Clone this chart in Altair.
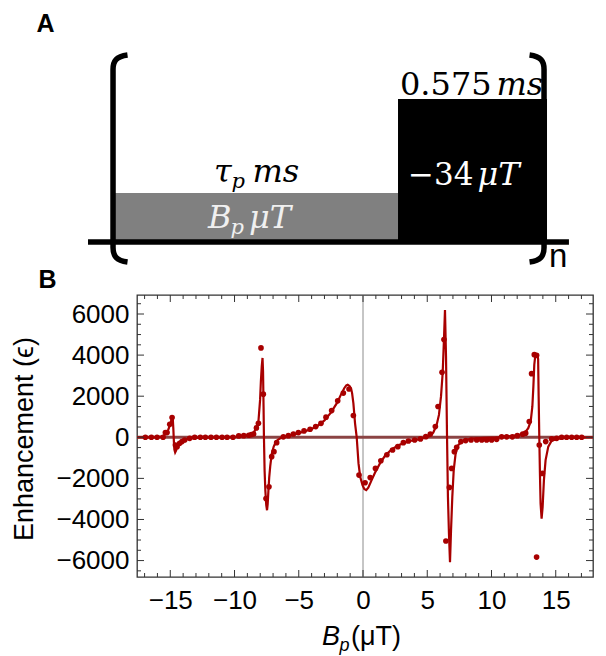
import altair as alt
import pandas as pd

# ---------------- Panel B: measured enhancement ----------------
bp_meas = [-16.94, -16.47, -16.03, -15.56, -15.38, -15.25, -15.04, -14.86, -14.6, -14.47,
           -14.27, -14.09, -13.88, -13.49, -13.1, -12.66, -12.27, -11.83, -11.41, -10.97,
           -10.58, -10.12, -9.67, -9.28, -8.89, -8.69, -8.51, -8.3, -8.14, -7.94,
           -7.76, -7.55, -7.32, -7.11, -6.93, -6.72, -6.2, -5.81, -5.42, -5.03,
           -4.59, -4.12, -3.68, -3.27, -2.88, -2.44, -1.97, -1.53, -1.09, -0.75,
           -0.31, 0.16, 0.56, 0.97, 1.39, 1.86, 2.3, 2.71, 3.14, 3.53,
           4.02, 4.47, 4.89, 5.24, 5.63, 5.84, 6.15, 6.3, 6.45, 6.72,
           6.9, 7.11, 7.29, 7.62, 7.99, 8.41, 8.85, 9.24, 9.62, 10.01,
           10.4, 10.79, 11.18, 11.62, 12.01, 12.43, 12.66, 12.94, 13.12, 13.33,
           13.51, 13.51, 13.72, 13.96, 14.22, 14.68, 15.07, 15.46, 15.85, 16.24,
           16.63, 17.02]
eps_meas = [0, 0, 0, 0, 230, 230, 635, 960, -375, -455,
            -295, -210, -130, -50, 0, 0, 0, 0, 0, 0,
            0, 0, 65, 80, 100, 130, 160, 455, 684, 4350,
            2100, -2980, -2410, -945, -700, -260, 20, 80, 160, 230,
            310, 390, 520, 680, 980, 1300, 1775, 2150, 2350, 1060,
            -1840, -2215, -1960, -1515, -1140, -850, -620, -455, -260, -180,
            -130, -80, 30, 160, 520, 1500, 3160, 4760, -5050, -2440,
            -1515, -700, -490, -210, -160, -130, -130, -130, -130, -130,
            -100, 20, 20, 20, 80, 150, 200, 765, 3095, 4020,
            3990, -5830, -375, -1760, -210, -80, -50, 0, 0, 0,
            0, 0]

# ---------------- Panel B: fitted curve ----------------
bp_fit = [-17.59, -16.5, -16.0, -15.7, -15.5, -15.3, -15.15, -15.0, -14.9, -14.84,
          -14.8, -14.76, -14.72, -14.68, -14.62, -14.55, -14.45, -14.3, -14.1, -13.9,
          -13.6, -13.2, -12.5, -11.5, -10.5, -9.8, -9.3, -8.9, -8.6, -8.4,
          -8.25, -8.14, -8.01, -7.95, -7.88, -7.82, -7.78, -7.74, -7.71, -7.66,
          -7.6, -7.53, -7.47, -7.42, -7.36, -7.3, -7.22, -7.1, -6.95, -6.8,
          -6.63, -6.4, -6.2, -6.0, -5.5, -5.0, -4.5, -4.0, -3.5, -3.0,
          -2.5, -2.0, -1.7, -1.45, -1.3, -1.19, -1.05, -0.93, -0.85, -0.75,
          -0.62, -0.49, -0.35, -0.22, -0.04, 0.1, 0.25, 0.41, 0.67, 0.93,
          1.32, 1.71, 2.23, 2.75, 3.27, 3.79, 4.3, 4.82, 5.21, 5.47,
          5.73, 5.91, 6.07, 6.2, 6.3, 6.38, 6.46, 6.54, 6.61, 6.69,
          6.77, 6.85, 6.95, 7.06, 7.21, 7.42, 7.81, 8.46, 9.5, 10.5,
          11.2, 11.7, 12.22, 12.6, 12.86, 13.05, 13.18, 13.26, 13.33, 13.41,
          13.5, 13.59, 13.63, 13.67, 13.72, 13.77, 13.82, 13.9, 13.98, 14.08,
          14.21, 14.42, 14.68, 15.2, 16.1, 17.9]
eps_fit = [0, 0, 5, 30, 80, 200, 380, 640, 880, 1000,
           850, 400, -200, -600, -740, -650, -470, -320, -210, -140,
           -80, -45, -20, -5, 10, 30, 60, 110, 200, 330,
           520, 770, 1820, 2700, 3450, 3860, 3200, 1500, 0, -1600,
           -2600, -3300, -3550, -3250, -2570, -1950, -1400, -800, -450, -250,
           -120, -40, 10, 50, 120, 200, 290, 400, 570, 820,
           1200, 1700, 2100, 2400, 2530, 2560, 2500, 2380, 2150, 1660,
           680, 0, -1270, -1920, -2330, -2520, -2575, -2450, -2085, -1730,
           -1270, -900, -590, -390, -260, -160, -100, -20, 65, 230,
           600, 1090, 1990, 3130, 4760, 6190, 3940, 0, -2900, -4690,
           -6080, -4530, -2900, -1600, -780, -375, -160, -65, -30, 0,
           40, 65, 130, 230, 440, 765, 1500, 2480, 3530, 3990,
           4030, 4020, 3800, 2000, 0, -1760, -3225, -3960, -3390, -2085,
           -1110, -455, -165, -65, -15, 0]

x_major_ticks = [-15, -10, -5, 0, 5, 10, 15]
x_minor_ticks = [-17, -16, -14, -13, -12, -11, -9, -8, -7, -6, -4, -3, -2, -1,
                 1, 2, 3, 4, 6, 7, 8, 9, 11, 12, 13, 14, 16, 17]
y_major_ticks = [-6000, -4000, -2000, 0, 2000, 4000, 6000]
y_minor_ticks = [-6500, -5500, -5000, -4500, -3500, -3000, -2500, -1500, -1000, -500,
                 500, 1000, 1500, 2500, 3000, 3500, 4500, 5000, 5500, 6500]

# ---------------- Panel A: pulse sequence (schematic units) ----------------
pulse_name = ["Bp", "detect"]
pulse_t0 = [0.0, 1.0]
pulse_t1 = [1.0, 1.5265]
pulse_amp = [1.0, 2.918]
seq_span = [-0.0954, 1.604]        # extent of the time axis line
bracket_t = [-0.007, 1.516]        # repeat-bracket positions
bracket_amp = 1.704

assert len(bp_meas) == len(eps_meas)
assert len(bp_fit) == len(eps_fit)

# ---------------- layout constants ----------------
W, H = 456, 282
X_DOM = [-17.59, 17.9]
Y_DOM = [-6800, 6925]
T_DOM = [0.0777, 1.689]
A_DOM = [-6.8367, -1.0816]
RED = "#a80000"
FRAME = "#333333"
SANS = "Liberation Sans"
SERIF = "DejaVu Serif"

xs = alt.Scale(domain=X_DOM, nice=False, zero=False)
ys = alt.Scale(domain=Y_DOM, nice=False, zero=False)
x_axis = alt.Axis(values=x_major_ticks, format="d", ticks=False, domain=False, grid=False,
                  labelPadding=10, labelFontSize=26, labelFont=SANS, labelColor="black",
                  title=None, labelFlush=False)
y_axis = alt.Axis(values=y_major_ticks, format="d", ticks=False, domain=False, grid=False,
                  labelPadding=8, labelFontSize=26, labelFont=SANS, labelColor="black",
                  title=None, labelFlush=False)

def X(field="Bp"):
    return alt.X(f"{field}:Q", scale=xs, axis=x_axis)

def Y(field="eps"):
    return alt.Y(f"{field}:Q", scale=ys, axis=y_axis)

meas = pd.DataFrame({"Bp": bp_meas, "eps": eps_meas})
fit = pd.DataFrame({"Bp": bp_fit, "eps": eps_fit})

vline = alt.Chart(pd.DataFrame({"Bp": [0]})).mark_rule(color="#8c8c8c", strokeWidth=1).encode(x=X())
hline = alt.Chart(pd.DataFrame({"eps": [0]})).mark_rule(color="#8b4444", strokeWidth=3).encode(y=Y())
curve = alt.Chart(fit).mark_line(color=RED, strokeWidth=2.2).encode(x=X(), y=Y())
dots = alt.Chart(meas).mark_circle(size=32, color=RED, opacity=1).encode(x=X(), y=Y())

def xticks(vals, length, top):
    y0, y1 = (0, length) if top else (H, H - length)
    return alt.Chart(pd.DataFrame({"Bp": vals})).mark_rule(color=FRAME, strokeWidth=1).encode(
        x=X(), y=alt.value(y0), y2=alt.value(y1))

def yticks(vals, length, right):
    x0, x1 = (W, W - length) if right else (0, length)
    return alt.Chart(pd.DataFrame({"eps": vals})).mark_rule(color=FRAME, strokeWidth=1).encode(
        y=Y(), x=alt.value(x0), x2=alt.value(x1))

ticks = [xticks(x_major_ticks, 7, False), xticks(x_minor_ticks, 4, False),
         xticks(x_major_ticks, 7, True), xticks(x_minor_ticks, 4, True),
         yticks(y_major_ticks, 7, False), yticks(y_minor_ticks, 4, False),
         yticks(y_major_ticks, 7, True), yticks(y_minor_ticks, 4, True)]

plot = alt.layer(vline, hline, curve, dots, *ticks)

# ---------------- overlay: panel A + annotations ----------------
ts = alt.Scale(domain=T_DOM, nice=False, zero=False)
amps = alt.Scale(domain=A_DOM, nice=False, zero=False)

pulses = pd.DataFrame({"name": pulse_name, "t0": pulse_t0, "t1": pulse_t1, "amp": pulse_amp})

rects = alt.Chart(pulses).transform_calculate(base="0").mark_rect().encode(
    x=alt.X("t0:Q", scale=ts, axis=None), x2="t1:Q",
    y=alt.Y("amp:Q", scale=amps, axis=None), y2="base:Q",
    color=alt.Color("name:N", scale=alt.Scale(domain=pulse_name, range=["#808080", "#000000"]),
                    legend=None))

seq_line = alt.Chart(pd.DataFrame({"t0": [seq_span[0]], "t1": [seq_span[1]], "amp": [0.0]})).mark_rule(
    color="black", strokeWidth=5.5).encode(
    x=alt.X("t0:Q", scale=ts, axis=None), x2="t1:Q", y=alt.Y("amp:Q", scale=amps, axis=None))

BRACKET = "M 0.14 -1 C 0.03 -0.985 0 -0.94 0 -0.86 L 0 0.86 C 0 0.94 0.03 0.985 0.14 1"

def bracket(t, angle):
    return alt.Chart(pd.DataFrame({"t": [t], "amp": [bracket_amp]})).mark_point(
        shape=BRACKET, size=42849, filled=False, stroke="black", strokeWidth=5.5,
        opacity=1, angle=angle).encode(
        x=alt.X("t:Q", scale=ts, axis=None), y=alt.Y("amp:Q", scale=amps, axis=None))

def plabel(pulse, text, dx, dy, size=32, italic=True, color="black"):
    kw = dict(fontStyle="italic") if italic else {}
    return alt.Chart(pulses).transform_filter(alt.datum.name == pulse).transform_calculate(
        mid="(datum.t0 + datum.t1) / 2").mark_text(
        text=text, align="left", baseline="alphabetic", dx=dx, dy=dy, font=SERIF,
        fontSize=size, color=color, **kw).encode(
        x=alt.X("mid:Q", scale=ts, axis=None), y=alt.Y("amp:Q", scale=amps, axis=None))

labels = [
    plabel("Bp", "τ", -42.5, -11),
    plabel("Bp", "p", -25, -5, size=21),
    plabel("Bp", "ms", -4, -11),
    plabel("Bp", "B", -48.5, 35, color="#f0f0f0"),
    plabel("Bp", "p", -26, 41, size=21, color="#f0f0f0"),
    plabel("Bp", "μT", -7.5, 35, color="#f0f0f0"),
    plabel("detect", "0.575", -72.5, -4, italic=False),
    plabel("detect", "ms", 24, -4),
    plabel("detect", "−34", -64.5, 86, size=31, italic=False, color="white"),
    plabel("detect", "μT", 5, 86, color="white"),
]

def note(text, x, y, size, align="left", font=SANS, weight="normal", style="normal", angle=0):
    kw = {}
    if angle:
        kw["angle"] = angle
    return alt.Chart(pd.DataFrame({"s": [text]})).mark_text(
        align=align, baseline="alphabetic", font=font, fontSize=size, fontWeight=weight,
        fontStyle=style, color="black", **kw).encode(
        x=alt.value(x), y=alt.value(y), text="s:N")

notes = [
    note("A", -100.4, -263, 25, weight="bold"),
    note("B", -98.5, -7, 25, weight="bold"),
    note("n", 412, -28, 33),
    note("Enhancement (ϵ)", -104, 144, 27, align="center", angle=270,
         font="Liberation Sans, DejaVu Sans"),
    note("B", 185, 350, 27, style="italic"),
    note("p", 202.5, 356, 18, style="italic"),
    note("(μT)", 214, 350, 27),
]

overlay = alt.layer(rects, seq_line, bracket(bracket_t[0], 0), bracket(bracket_t[1], 180),
                    *labels, *notes)

chart = alt.layer(plot, overlay).resolve_scale(
    x="independent", y="independent", color="independent"
).properties(
    width=W, height=H,
    autosize=alt.AutoSizeParams(type="none"),
    padding={"left": 137, "top": 295, "right": 13, "bottom": 79},
).configure_view(stroke=FRAME, strokeWidth=1.3)

chart.save("out.html", embed_options={"renderer": "svg", "actions": False})
